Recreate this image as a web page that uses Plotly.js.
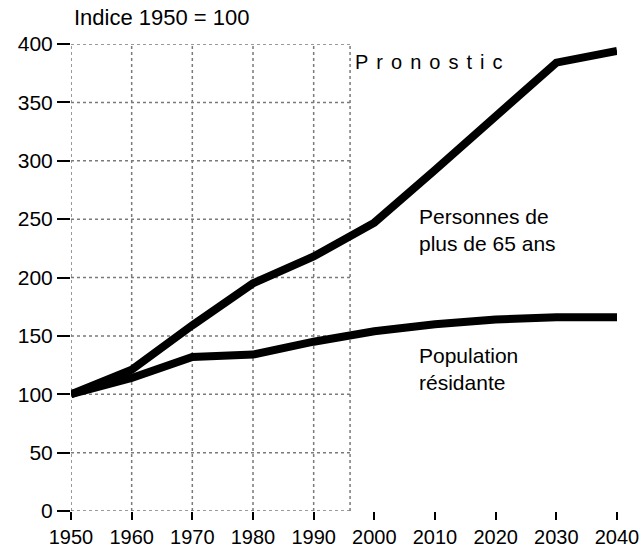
<!DOCTYPE html>
<html>
<head>
<meta charset="utf-8">
<script src="https://cdn.plot.ly/plotly-3.0.1.min.js"></script>
<style>
  body { margin: 0; background: #fff; }
  #chart { width: 642px; height: 552px; }
</style>
</head>
<body>
<div id="chart"></div>
<script>
const years = [1950, 1960, 1970, 1980, 1990, 2000, 2010, 2020, 2030, 2040]
const seniors = [100, 121, 159, 195, 218, 247, 292, 339, 384, 394]
const population = [100, 114, 132, 134, 145, 154, 160, 164, 166, 166]

const yTicks = [0, 50, 100, 150, 200, 250, 300, 350, 400]
const gridYears = [1950, 1960, 1970, 1980, 1990, 1996]

const font = 'Liberation Sans, Arial, sans-serif'
const gridStyle = { color: '#7a7a7a', width: 1.5, dash: 'dot' }

// grid only covers the observed period, not the forecast
const shapes = []
gridYears.forEach(x => shapes.push({
    type: 'line', xref: 'x', yref: 'y', x0: x, x1: x, y0: 0, y1: 400, line: gridStyle, layer: 'below'
}))
yTicks.forEach(y => shapes.push({
    type: 'line', xref: 'x', yref: 'y', x0: 1950, x1: 1996, y0: y, y1: y, line: gridStyle, layer: 'below'
}))

const traces = [
    { x: years, y: seniors, mode: 'lines', line: { color: '#000', width: 8 }, name: 'Personnes de plus de 65 ans' },
    { x: years, y: population, mode: 'lines', line: { color: '#000', width: 8 }, name: 'Population résidante' }
]

const spaced = 'Pronostic'.split('').join('\u2009\u2009')

const layout = {
    width: 642,
    height: 552,
    margin: { l: 71, r: 25, t: 44, b: 41 },
    paper_bgcolor: '#fff',
    plot_bgcolor: '#fff',
    showlegend: false,
    font: { family: font, size: 21, color: '#000' },
    xaxis: {
        range: [1950, 2040],
        tickvals: years,
        ticktext: years.map(String),
        showgrid: false,
        zeroline: false,
        showline: false,
        ticks: 'outside',
        ticklen: 8,
        tickwidth: 2,
        tickcolor: '#000',
        tickfont: { size: 20 }
    },
    yaxis: {
        range: [0, 400],
        tickvals: yTicks,
        showgrid: false,
        zeroline: false,
        showline: false,
        ticks: 'outside',
        ticklen: 13,
        tickwidth: 2,
        tickcolor: '#000',
        tickfont: { size: 21 }
    },
    shapes: shapes,
    annotations: [
        { text: 'Indice 1950 = 100', xref: 'paper', yref: 'paper', x: 0.001, y: 1.025, xanchor: 'left', yanchor: 'bottom', showarrow: false, font: { size: 22 } },
        { text: spaced, xref: 'x', yref: 'y', x: 1996.5, y: 385, xanchor: 'left', yanchor: 'middle', showarrow: false, font: { size: 20 } },
        { text: 'Personnes de<br>plus de 65 ans', xref: 'x', yref: 'y', x: 2007, y: 241, xanchor: 'left', yanchor: 'middle', align: 'left', showarrow: false, font: { size: 21 } },
        { text: 'Population<br>résidante', xref: 'x', yref: 'y', x: 2007, y: 122, xanchor: 'left', yanchor: 'middle', align: 'left', showarrow: false, font: { size: 21 } }
    ]
}

Plotly.newPlot('chart', traces, layout, { staticPlot: true })
</script>
</body>
</html>
